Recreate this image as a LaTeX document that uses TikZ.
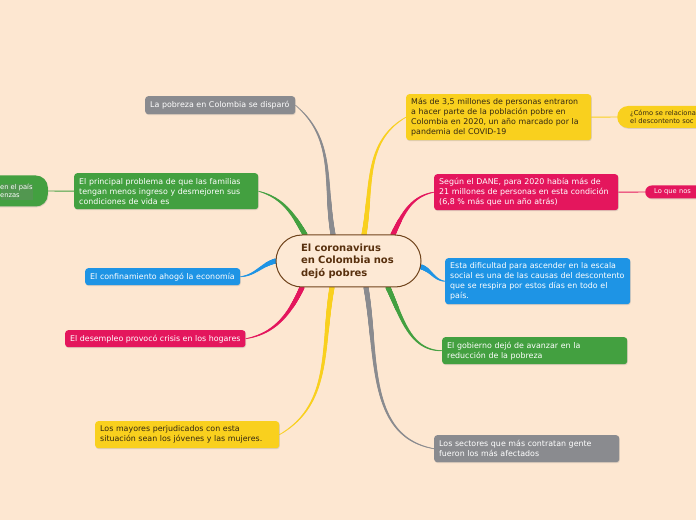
\documentclass[tikz,border=0pt]{standalone}
\usepackage{fontspec}
\setmainfont{DejaVu Sans}
\usetikzlibrary{decorations.markings,shadows}
\definecolor{bgpeach}{RGB}{253,231,209}
\definecolor{ctrfill}{RGB}{253,233,213}
\definecolor{ctrline}{RGB}{112,68,28}
\definecolor{ctrtext}{RGB}{88,48,14}
\definecolor{mgray}{RGB}{138,139,143}
\definecolor{mgreen}{RGB}{67,160,64}
\definecolor{mblue}{RGB}{30,148,229}
\definecolor{mpink}{RGB}{228,22,93}
\definecolor{myellow}{RGB}{249,208,30}
\definecolor{ytext}{RGB}{52,40,18}
\pgfdeclarelayer{bg}
\pgfdeclarelayer{links}
\pgfsetlayers{bg,links,main}
\tikzset{
  idea/.style={rounded corners=3pt,anchor=north west,inner xsep=5pt,inner ysep=3pt,
    align=left,text=white,font=\fontsize{7.9}{10}\selectfont,
    drop shadow={shadow xshift=.6pt,shadow yshift=-.9pt,opacity=.25}},
  subidea/.style={inner ysep=1pt,align=left,text=white,font=\fontsize{6.7}{8.4}\selectfont,
    drop shadow={shadow xshift=.6pt,shadow yshift=-.9pt,opacity=.25}},
  branch/.style={postaction={decorate,decoration={markings,
    mark=between positions 0 and 1 step 0.5pt with {
      \pgfmathsetmacro\brw{0.45+2.1*(1-\pgfkeysvalueof{/pgf/decoration/mark info/distance from start}/\pgfdecoratedpathlength)}
      \fill[#1] (0,0) circle (\brw pt);}}}}
}
\begin{document}
\begin{tikzpicture}[x=1pt,y=1pt]
\clip (0,0) rectangle (696,520);
\begin{pgfonlayer}{bg}
\fill[bgpeach] (0,0) rectangle (696,520);
\end{pgfonlayer}
\node[draw=ctrline,line width=1pt,fill=ctrfill,rounded corners=26pt,minimum width=145pt,minimum height=52pt,
  inner xsep=25pt,text width=95pt,align=left,text=ctrtext,font=\fontsize{10}{12.5}\selectfont\bfseries] (ctr) at (348.5,259)
  {El coronavirus\\en Colombia nos\\dejó pobres};
\node[idea,fill=mgray,text width=140pt,minimum height=18pt] (gpov) at (145,424) {La pobreza en Colombia se disparó};
\node[idea,fill=mgreen,text width=174pt,minimum height=36pt] (gfam) at (74,347)
  {El principal problema de que las familias\\tengan menos ingreso y desmejoren sus\\condiciones de vida es};
\node[subidea,fill=mgreen,rounded corners=12pt,minimum width=90pt,minimum height=31pt,anchor=east] (gsub) at (48,329) {};
\node[subidea,anchor=west,inner xsep=0pt,drop shadow={opacity=0}] (gsubtxt) at (0,329) {en el país\\enzas};
\node[idea,fill=mblue,text width=145pt,minimum height=17pt] (bconf) at (85,252) {El confinamiento ahogó la economía};
\node[idea,fill=mpink,minimum height=17pt] (rdes) at (65,190) {El desempleo provocó crisis en los hogares};
\node[idea,fill=myellow,text=ytext,text width=174pt,minimum height=27pt] (ymay) at (95,99)
  {Los mayores perjudicados con esta\\situación sean los jóvenes y las mujeres.};
\node[idea,fill=myellow,text=ytext,text width=175pt,minimum height=46pt] (ymas) at (406,426)
  {Más de 3,5 millones de personas entraron\\a hacer parte de la población pobre en\\Colombia en 2020, un año marcado por la\\pandemia del COVID-19};
\node[subidea,fill=myellow,text=ytext,rounded corners=11pt,minimum height=22pt,inner xsep=13pt,text width=100pt,anchor=west] (ysub) at (617,403)
  {¿Cómo se relaciona\\el descontento soc};
\node[idea,fill=mpink,text width=174pt,minimum height=36pt] (rdane) at (434,346)
  {Según el DANE, para 2020 había más de\\21 millones de personas en esta condición\\(6,8 \% más que un año atrás)};
\node[subidea,fill=mpink,rounded corners=6.5pt,minimum height=13pt,inner xsep=9pt,text width=70pt,anchor=west] (rsub) at (645,328) {Lo que nos};
\node[idea,fill=mblue,text width=175pt,minimum height=46pt] (besta) at (445,262)
  {Esta dificultad para ascender en la escala\\social es una de las causas del descontento\\que se respira por estos días en todo el\\país.};
\node[idea,fill=mgreen,text width=175pt,minimum height=27pt] (ggob) at (442,183)
  {El gobierno dejó de avanzar en la\\reducción de la pobreza};
\node[idea,fill=mgray,text width=175pt,minimum height=27pt] (gsec) at (434,85)
  {Los sectores que más contratan gente\\fueron los más afectados};
\begin{pgfonlayer}{links}
\path[branch=mgray] ([xshift=-15.5pt]ctr.north) to[out=100,in=-40] (gpov.east);
\path[branch=myellow] ([xshift=15.5pt]ctr.north) to[out=80,in=210] (ymas.west);
\path[branch=mgreen] ([xshift=-43.5pt]ctr.north) to[out=120,in=-15] (gfam.east);
\path[branch=mpink] ([xshift=44.5pt]ctr.north) to[out=65,in=190] (rdane.west);
\path[branch=mblue] (ctr.west) to[out=195,in=5] (bconf.east);
\path[branch=mblue] ([yshift=-6pt]ctr.east) to[out=-20,in=175] (besta.west);
\path[branch=mpink] ([xshift=-46.5pt]ctr.south) to[out=-115,in=10] (rdes.east);
\path[branch=myellow] ([xshift=-16.5pt]ctr.south) to[out=-100,in=30] (ymay.east);
\path[branch=mgray] ([xshift=17.5pt]ctr.south) to[out=-80,in=170] (gsec.west);
\path[branch=mgreen] ([xshift=39.5pt]ctr.south) to[out=-65,in=180] (ggob.west);
\draw[mgreen,line width=.9pt] (gfam.west) -- (gsub.east);
\draw[myellow,line width=.9pt] (ymas.east) -- (ysub.west);
\draw[mpink,line width=.9pt] (rdane.east) -- (rsub.west);
\end{pgfonlayer}
\end{tikzpicture}
\end{document}
